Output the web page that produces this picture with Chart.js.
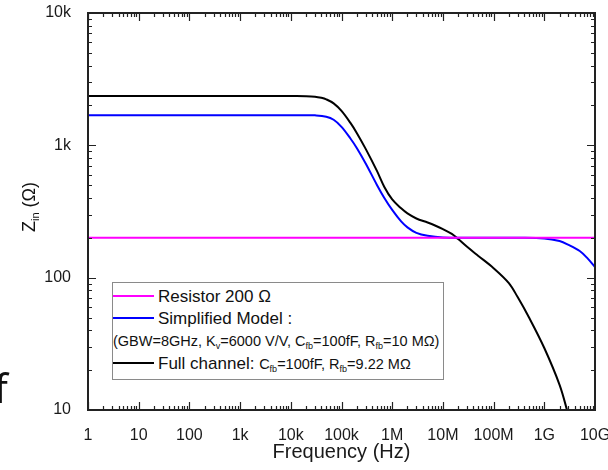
<!DOCTYPE html>
<html><head><meta charset="utf-8">
<script src="https://cdn.jsdelivr.net/npm/chart.js@4/dist/chart.umd.min.js"></script>
<style>
html,body{margin:0;padding:0;background:#fff;}
#wrap{position:relative;width:608px;height:470px;overflow:hidden;font-family:"Liberation Sans",Arial,sans-serif;color:#111;}
#c{position:absolute;left:0;top:0;}
#ytitle{position:absolute;left:30px;top:207px;transform:translate(-50%,-50%) rotate(-90deg);font-size:18px;white-space:nowrap;line-height:1;}
#ytitle sub{font-size:11px;vertical-align:-4px;}
#legend{position:absolute;left:112px;top:282px;width:332px;height:98px;border:1px solid #8a8a8a;background:#fff;box-sizing:border-box;}
.row{position:absolute;white-space:nowrap;line-height:1;}
.sw{position:absolute;left:0;width:41px;height:2px;}
.big{font-size:17px;}
.small{font-size:14.5px;}
.row sub{font-size:9px;vertical-align:-3px;}
#stray{position:absolute;left:-6px;top:368px;font-family:"Noto Sans",sans-serif;font-size:40px;line-height:1;color:#111;}
</style></head>
<body>
<div id="wrap">
<canvas id="c" width="608" height="470"></canvas>
<div id="ytitle">Z<sub>in</sub> (Ω)</div>
<div id="legend">
  <div class="sw" style="top:12px;background:#ff00ff"></div>
  <div class="row big" style="left:45px;top:5px">Resistor 200 Ω</div>
  <div class="sw" style="top:34px;background:#0000ff"></div>
  <div class="row big" style="left:45px;top:27px">Simplified Model :</div>
  <div class="row small" style="left:0px;top:51px">(GBW=8GHz, K<sub>v</sub>=6000 V/V, C<sub>fb</sub>=100fF, R<sub>fb</sub>=10 MΩ)</div>
  <div class="sw" style="top:79px;background:#000"></div>
  <div class="row" style="left:45px;top:72px"><span class="big">Full channel: </span><span class="small">C<sub>fb</sub>=100fF, R<sub>fb</sub>=9.22 MΩ</span></div>
</div>
<div id="stray">f</div>
</div>
<script>
// ---- data ----
const xTickLabels = ['1','10','100','1k','10k','100k','1M','10M','100M','1G','10G'];
const yTickLabels = ['10','100','1k','10k'];

const freqResistor = [1, 1e10];
const zResistor    = [200, 200];

const freqSimplified = [1, 1e2, 1e3, 1e4, 2e4, 3e4, 5e4, 7e4, 1e5, 1.5e5, 2e5, 3e5, 5e5, 7e5, 1e6, 1.5e6, 2e6, 3e6, 5e6, 1e7, 3e7, 1e8, 3e8, 1e9, 2e9, 3e9, 5e9, 7e9, 1e10];
const zSimplified    = [1690, 1690, 1690, 1690, 1690, 1686, 1645, 1560, 1380, 1127, 955, 729, 502, 400, 325, 266, 240, 218, 207, 201, 200, 200, 200, 198, 189, 177, 159, 141, 120];

const freqFull = [1, 1e2, 1e3, 1e4, 2e4, 3e4, 4e4, 5e4, 7e4, 1e5, 1.5e5, 2e5, 3e5, 5e5, 7e5, 1e6, 1.5e6, 2e6, 3e6, 5e6, 7e6, 1e7, 1.5e7, 2e7, 3e7, 5e7, 1e8, 2e8, 3e8, 5e8, 1e9, 2e9, 2.8e9, 3.2e9];
const zFull    = [2355, 2355, 2355, 2355, 2352, 2333, 2285, 2225, 2075, 1820, 1477, 1241, 940, 641, 485, 390, 334, 306, 280, 261, 248, 233, 214, 196, 171, 146, 118, 91, 71, 50, 29.4, 15.5, 10, 8];

const pts = (xs, ys) => xs.map((x, i) => ({x: x, y: ys[i]}));
const FONT = '"Liberation Sans", Arial, sans-serif';

const inTicks = {
  id: 'inTicks',
  afterDraw(chart) {
    const {ctx, chartArea: a, scales: {x, y}} = chart;
    ctx.save();
    ctx.strokeStyle = '#222';
    ctx.lineWidth = 1.2;
    ctx.beginPath();
    for (let d = 0; d < 10; d++) {
      for (let m = 1; m <= 9; m++) {
        const v = m * Math.pow(10, d);
        const px = Math.round(x.getPixelForValue(v)) + 0.5;
        const len = m === 1 ? 8 : 4;
        ctx.moveTo(px, a.bottom); ctx.lineTo(px, a.bottom - len);
        ctx.moveTo(px, a.top); ctx.lineTo(px, a.top + len);
      }
    }
    for (let d = 1; d < 4; d++) {
      for (let m = 1; m <= 9; m++) {
        const v = m * Math.pow(10, d);
        const py = Math.round(y.getPixelForValue(v)) + 0.5;
        const len = m === 1 ? 8 : 4;
        ctx.moveTo(a.left, py); ctx.lineTo(a.left + len, py);
        ctx.moveTo(a.right, py); ctx.lineTo(a.right - len, py);
      }
    }
    ctx.stroke();
    ctx.lineWidth = 2;
    ctx.strokeRect(a.left, a.top, a.right - a.left, a.bottom - a.top);
    ctx.restore();
  }
};

new Chart(document.getElementById('c'), {
  type: 'line',
  data: {
    datasets: [
      {label: 'Resistor 200 Ω', data: pts(freqResistor, zResistor), borderColor: '#ff00ff', borderWidth: 2, pointRadius: 0},
      {label: 'Simplified Model', data: pts(freqSimplified, zSimplified), borderColor: '#0000ff', borderWidth: 2, pointRadius: 0, tension: 0.35},
      {label: 'Full channel', data: pts(freqFull, zFull), borderColor: '#000000', borderWidth: 2, pointRadius: 0, tension: 0.35}
    ]
  },
  options: {
    responsive: false,
    animation: false,
    layout: {padding: {top: 13, right: 13, left: 0, bottom: 0}},
    plugins: {legend: {display: false}, tooltip: {enabled: false}},
    scales: {
      x: {
        type: 'logarithmic', min: 1, max: 1e10,
        afterBuildTicks: (s) => { s.ticks = xTickLabels.map((_, i) => ({value: Math.pow(10, i)})); },
        afterFit: (s) => { s.height = 60; s.paddingLeft = 0; s.paddingRight = 0; },
        grid: {display: false},
        border: {display: false},
        ticks: {
          autoSkip: false, maxRotation: 0, padding: 8, color: '#1a1a1a',
          font: {family: FONT, size: 16},
          callback: (v) => xTickLabels[Math.round(Math.log10(v))]
        },
        title: {display: true, text: 'Frequency (Hz)', color: '#1a1a1a', font: {family: FONT, size: 20}, padding: {top: 0, bottom: 6}}
      },
      y: {
        type: 'logarithmic', min: 10, max: 10000,
        afterBuildTicks: (s) => { s.ticks = yTickLabels.map((_, i) => ({value: Math.pow(10, i + 1)})); },
        afterFit: (s) => { s.width = 88; s.paddingTop = 0; s.paddingBottom = 0; },
        grid: {display: false},
        border: {display: false},
        ticks: {
          autoSkip: false, padding: 9, color: '#1a1a1a',
          font: {family: FONT, size: 16},
          callback: (v) => yTickLabels[Math.round(Math.log10(v)) - 1]
        }
      }
    }
  },
  plugins: [inTicks]
});
</script>
</body></html>
